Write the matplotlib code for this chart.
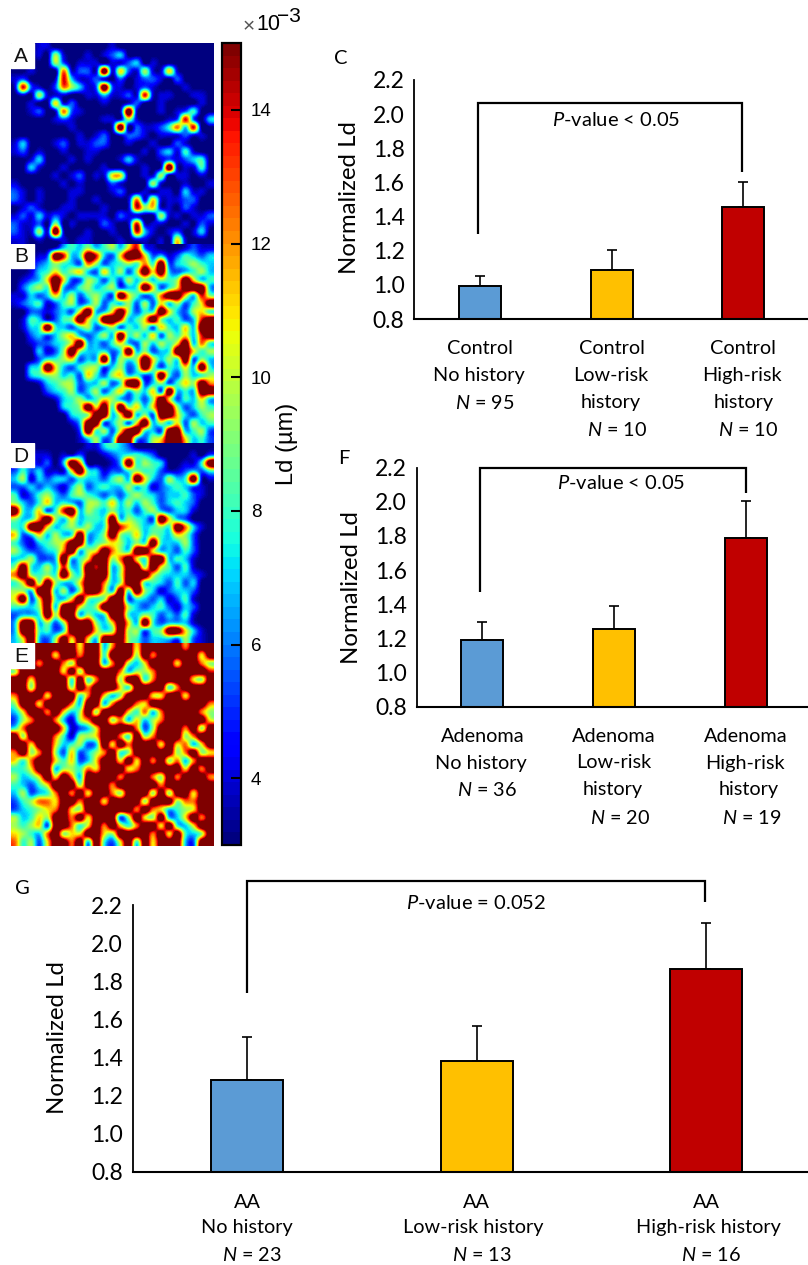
import numpy as np
import matplotlib
matplotlib.use('Agg')
import matplotlib.pyplot as plt

W, H = 808, 1265

plt.rcParams['font.family'] = ['Lato', 'DejaVu Sans']
plt.rcParams['mathtext.fontset'] = 'custom'
plt.rcParams['mathtext.rm'] = 'Lato'
plt.rcParams['mathtext.it'] = 'Lato:italic'

# heat map grids, one digit per cell
MAP_LEVELS = [3.0, 4.0, 5.5, 7.0, 8.0, 9.5, 11.0, 12.5, 14.0, 17.0]

map_a = [
    "00011 00000 00100 00000 00000",
    "00010 51001 01230 00000 00000",
    "00000 52011 10112 30100 00000",
    "00100 07122 19162 15116 10000",
    "12000 18311 21020 12210 20000",
    "18210 27531 29210 12100 01000",
    "01051 11001 13112 18111 00110",
    "00100 61200 01001 20010 00010",
    "00120 17210 00019 10010 12400",
    "00000 12100 01115 10001 28203",
    "00000 00100 00190 21124 73800",
    "00000 00010 12012 21011 12110",
    "13000 12011 22001 00100 21000",
    "12010 01001 10000 01023 14100",
    "00130 00101 00013 10012 12340",
    "00310 01000 01000 01019 11140",
    "00000 10120 11660 01150 11010",
    "10000 01010 00210 00510 01001",
    "21010 00110 00120 01011 03110",
    "21010 00100 10001 71611 12200",
    "01210 01100 01001 85611 02100",
    "12131 21011 11021 10051 10112",
    "21120 50100 02101 81110 01021",
    "21151 91001 00100 83101 20130",
    "11010 11011 00010 11010 61000",
]

map_b = [
    "00000 13435 34536 82100 01211",
    "00012 98349 83269 96231 24323",
    "00123 54327 52345 47492 34543",
    "00134 64563 26352 59693 23453",
    "01236 96225 42425 35354 59634",
    "02454 93245 34523 49624 69993",
    "11323 63524 53296 42379 96385",
    "12341 24523 52435 25263 52469",
    "00221 23269 33695 24496 32564",
    "01431 24596 49983 46953 42389",
    "01349 43245 23524 35264 36399",
    "00232 35632 35394 53625 46389",
    "00122 34693 32463 25354 69374",
    "00031 25953 34249 35234 99645",
    "00024 45623 39254 59635 49253",
    "00349 63245 52352 49524 36394",
    "00345 53426 42563 42394 25345",
    "00013 45523 35249 92352 46597",
    "00002 34523 52463 53629 34399",
    "00000 13453 46532 42596 24363",
    "00000 03459 69495 63699 52354",
    "00000 00345 99369 35299 63245",
    "00000 00139 92352 69353 62534",
    "00000 00029 45269 94329 93452",
    "00000 00013 52399 32569 96342",
]

map_d = [
    "00000 00001 13432 00000 00000",
    "00111 01120 01234 43200 00102",
    "13212 03970 00139 45430 01149",
    "24231 11694 31224 54421 12324",
    "35132 33243 32453 96325 34911",
    "22323 21352 34335 34123 43210",
    "41245 32454 32324 54323 34210",
    "53246 34325 54635 35423 43200",
    "94362 48935 43534 24532 33100",
    "53479 53634 44935 43296 32000",
    "44996 34545 34986 53454 97310",
    "62363 53493 35954 63543 65200",
    "42134 56993 45653 54943 35200",
    "53223 47935 69754 99633 24200",
    "34522 39346 99579 64993 43100",
    "59435 38349 89359 95964 24100",
    "79545 49549 99359 99643 33210",
    "46959 53369 97359 94432 42300",
    "55399 35259 96394 95312 33200",
    "69269 43695 45992 43231 24100",
    "44359 39964 59995 32342 13200",
    "23349 59935 34994 35423 24100",
    "39935 25999 53696 39423 33100",
    "39944 24999 64595 52459 96310",
    "36932 59696 39995 42333 25210",
]

map_e = [
    "99999 99969 93799 69999 97999",
    "99999 69979 94999 59799 99969",
    "99979 97599 93795 36999 69975",
    "59999 96959 99973 55799 99998",
    "99699 99494 79959 94799 99659",
    "99599 99597 99964 99994 79999",
    "79996 99947 96359 99669 96999",
    "59969 99739 93799 76999 99997",
    "36997 96359 59996 47379 99975",
    "25799 73157 99573 63579 99996",
    "47999 96123 69999 72599 97959",
    "95999 74155 69974 95799 95799",
    "99699 63452 39697 99969 67369",
    "79579 52623 57945 99999 57956",
    "64799 64623 69969 69795 73799",
    "44699 35547 69996 79999 96979",
    "53469 69739 99979 99759 79997",
    "43246 99959 99799 99979 99999",
    "35234 79796 99759 99595 99699",
    "24577 69979 96999 95999 57799",
    "23456 79659 99999 79763 45699",
    "53465 99796 99925 96593 36979",
    "54562 99746 97964 79969 43699",
    "65437 95669 96599 99796 94359",
    "74526 99793 94269 49699 93299",
]

cbar_ticks = [4, 6, 8, 10, 12, 14]
y_ticks = [0.8, 1.0, 1.2, 1.4, 1.6, 1.8, 2.0, 2.2]
bar_colors = ['#5B9BD5', '#FFC000', '#C00000']

# panel C
values_c = [0.995, 1.085, 1.455]
errors_c = [0.056, 0.12, 0.145]
# panel F
values_f = [1.19, 1.257, 1.79]
errors_f = [0.104, 0.135, 0.215]
# panel G
values_g = [1.281, 1.381, 1.866]
errors_g = [0.228, 0.185, 0.241]

labels_c = [['Control', 'No history', r'$\mathit{N}$ = 95'],
            ['Control', 'Low-risk', 'history', r'$\mathit{N}$ = 10'],
            ['Control', 'High-risk', 'history', r'$\mathit{N}$ = 10']]
labels_f = [['Adenoma', 'No history', r'$\mathit{N}$ = 36'],
            ['Adenoma', 'Low-risk', 'history', r'$\mathit{N}$ = 20'],
            ['Adenoma', 'High-risk', 'history', r'$\mathit{N}$ = 19']]
labels_g = [['AA', 'No history', r'$\mathit{N}$ = 23'],
            ['AA', 'Low-risk history', r'$\mathit{N}$ = 13'],
            ['AA', 'High-risk history', r'$\mathit{N}$ = 16']]

fig = plt.figure(figsize=(W / 100, H / 100), dpi=100)


def px_axes(left, top, right, bottom):
    return fig.add_axes([left / W, 1 - bottom / H, (right - left) / W, (bottom - top) / H])


def px_text(x, y, s, **kw):
    kw.setdefault('ha', 'center')
    kw.setdefault('va', 'center')
    return fig.text(x / W, 1 - y / H, s, **kw)


def draw_map(rows, top, bottom, letter):
    ax = px_axes(11, top, 214, bottom)
    grid = np.array([[MAP_LEVELS[int(c)] for c in r.replace(' ', '')] for r in rows])
    ax.imshow(grid, cmap=jet, vmin=3, vmax=15, aspect='auto', interpolation='catrom',
              interpolation_stage='data')
    ax.axis('off')
    # white box under the letter
    ax.add_patch(plt.Rectangle((0, 0.878), 0.113, 0.122, transform=ax.transAxes,
                               color='white', zorder=3))
    ax.text(0.05, 0.935, letter, transform=ax.transAxes, ha='center', va='center',
            fontsize=15, family='Liberation Sans', color='#111111', zorder=5)


jet = plt.get_cmap('jet', 64)
draw_map(map_a, 43, 244, 'A')
draw_map(map_b, 244, 443, 'B')
draw_map(map_d, 443, 643, 'D')
draw_map(map_e, 643, 846, 'E')

# colour bar
cax = px_axes(222, 43, 241, 845)
sm = plt.cm.ScalarMappable(norm=plt.Normalize(3, 15), cmap=jet)
cb = fig.colorbar(sm, cax=cax)
cb.set_ticks(cbar_ticks)
cax.tick_params(axis='y', direction='in', length=7, width=1.5, pad=7, labelsize=13.5,
                labelfontfamily='Liberation Sans')
cb.outline.set_linewidth(1.6)
px_text(287, 444, 'Ld (\u00b5m)', rotation=90, fontsize=17, family='Liberation Sans')
px_text(249, 27, '\u00d7', fontsize=15, color='#555555', family='Liberation Sans')
px_text(268, 25, '10', fontsize=15.5, family='Liberation Sans')
px_text(289, 17, '\u22123', fontsize=15, family='Liberation Sans')


def draw_bars(box, spacing, center0, values, errors, labels, label_y, label_dx,
              bracket, p_text, p_xy, ylabel_xy, letter, letter_xy, width_px):
    left, top, right, bottom = box
    ax = px_axes(left, top, right, bottom)
    xs = np.arange(3)
    ax.bar(xs, values, width=width_px / spacing, color=bar_colors, edgecolor='black',
           linewidth=1.4, zorder=2)
    ax.errorbar(xs, values, yerr=[[0, 0, 0], errors], fmt='none', ecolor='black',
                elinewidth=1.2, capsize=3.5, capthick=1.2, zorder=1)
    ax.set_xlim((left - center0) / spacing, (right - center0) / spacing)
    ax.set_ylim(0.8, 2.2)
    ax.set_yticks(y_ticks)
    ax.set_yticklabels(['%.1f' % t for t in y_ticks])
    ax.set_xticks([])
    ax.tick_params(axis='y', length=0, pad=7, labelsize=16.5)
    ax.spines['top'].set_visible(False)
    ax.spines['right'].set_visible(False)
    ax.spines['left'].set_linewidth(1.3)
    ax.spines['bottom'].set_linewidth(1.5)

    # significance bracket
    x0, x1, y_top, y_left, y_right = bracket
    ax.plot([x0, x0, x1, x1], [y_left, y_top, y_top, y_right], color='black', lw=1.6,
            clip_on=False, solid_joinstyle='miter', solid_capstyle='butt')
    px_text(p_xy[0], p_xy[1], p_text, fontsize=14.5)
    px_text(ylabel_xy[0], ylabel_xy[1], 'Normalized Ld', rotation=90, fontsize=17.3)
    px_text(letter_xy[0], letter_xy[1], letter, fontsize=14.5)

    for i, lines in enumerate(labels):
        for j, line in enumerate(lines):
            px_text(center0 + i * spacing + label_dx[i][j], label_y[j], line, fontsize=14.3)
    return ax


draw_bars((414.3, 80, 808, 319), 131.5, 480, values_c, errors_c, labels_c,
          [348, 375, 403, 430],
          [[0, -1, 5], [0, -1, -1, 6], [0, -1, 1, 5]],
          (-0.015, 1.99, 2.067, 1.298, 1.663),
          r'$\mathit{P}$-value < 0.05', (616, 120), (350, 197), 'C', (341, 58), 42)

draw_bars((416.7, 467.7, 808, 706.7), 131.7, 482.3, values_f, errors_f, labels_f,
          [736, 763, 790, 818],
          [[0, -1, 5], [0, 0, -1, 6], [0, -1, 3, 6]],
          (-0.02, 2.0, 2.2, 1.474, 2.054),
          r'$\mathit{P}$-value < 0.05', (621, 483), (352, 588), 'F', (344, 458), 42)

draw_bars((132.5, 905, 808, 1171.7), 229.5, 247, values_g, errors_g, labels_g,
          [1202, 1228, 1255],
          [[0, 0, 5], [0, -3, 5], [0, 2, 5]],
          (0.0, 1.995, 2.327, 1.737, 2.217),
          r'$\mathit{P}$-value = 0.052', (476, 903), (58, 1038), 'G', (22, 888), 72)

fig.savefig('out.png', dpi=100)
